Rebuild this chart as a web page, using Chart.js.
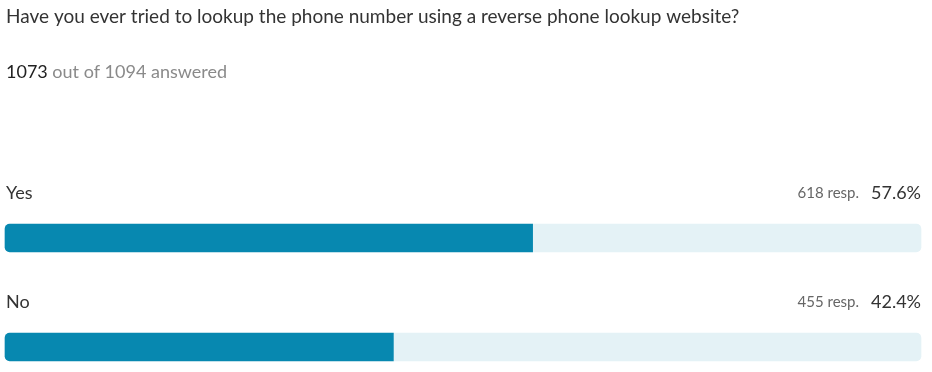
<!DOCTYPE html>
<html>
<head>
<meta charset="utf-8">
<script src="https://cdn.jsdelivr.net/npm/chart.js@4"></script>
<style>
  html, body { margin: 0; padding: 0; background: #fff; }
  #wrap { position: relative; width: 932px; height: 372px; }
  canvas { display: block; }
</style>
</head>
<body>
<div id="wrap"><canvas id="c" width="932" height="372"></canvas></div>
<script>
const question = "Have you ever tried to lookup the phone number using a reverse phone lookup website?";
const answeredCount = 1073;
const totalCount = 1094;
const categories = ["Yes", "No"];
const responses = [618, 455];
const percents = [57.6, 42.4];
const remainders = percents.map(p => +(100 - p).toFixed(1));

const FONT = "Lato, 'Open Sans', sans-serif";

const textPlugin = {
  id: 'surveyText',
  afterDraw(chart) {
    const ctx = chart.ctx;
    ctx.save();
    ctx.textBaseline = 'middle';
    // Title
    ctx.fillStyle = '#333333';
    ctx.font = '19px ' + FONT;
    ctx.textAlign = 'left';
    ctx.fillText(question, 6, 17);
    // Subtitle
    ctx.font = '18px ' + FONT;
    ctx.fillStyle = '#222222';
    const a = String(answeredCount);
    ctx.fillText(a, 6, 72);
    const w = ctx.measureText(a).width;
    ctx.fillStyle = '#8a8a8a';
    ctx.fillText(' out of ' + totalCount + ' answered', 6 + w, 72);
    // Per-category labels
    const meta = chart.getDatasetMeta(0);
    const area = chart.chartArea;
    meta.data.forEach((bar, i) => {
      const y = bar.y - 45;
      ctx.textAlign = 'left';
      ctx.font = '18px ' + FONT;
      ctx.fillStyle = '#333333';
      ctx.fillText(categories[i], 6, y);
      ctx.textAlign = 'right';
      const pct = percents[i].toFixed(1) + '%';
      ctx.fillText(pct, area.right, y);
      const pw = ctx.measureText(pct).width;
      ctx.font = '15px ' + FONT;
      ctx.fillStyle = '#666666';
      ctx.fillText(responses[i] + ' resp.', area.right - pw - 12, y);
    });
    ctx.restore();
  }
};

new Chart(document.getElementById('c'), {
  type: 'bar',
  data: {
    labels: categories,
    datasets: [
      {
        data: percents,
        backgroundColor: '#0788b0',
        borderRadius: { topLeft: 5, bottomLeft: 5, topRight: 0, bottomRight: 0 },
        borderSkipped: false,
        barThickness: 28,
        clip: false
      },
      {
        data: remainders,
        backgroundColor: '#e4f2f6',
        borderRadius: { topLeft: 0, bottomLeft: 0, topRight: 5, bottomRight: 5 },
        borderSkipped: false,
        barThickness: 28,
        clip: false
      }
    ]
  },
  options: {
    indexAxis: 'y',
    responsive: false,
    animation: false,
    layout: { padding: { left: 5, right: 11, top: 238, bottom: 25 } },
    scales: {
      x: { stacked: true, min: 0, max: 100, display: false },
      y: { stacked: true, offset: false, display: false }
    },
    plugins: {
      legend: { display: false },
      tooltip: { enabled: false },
      title: { display: false }
    }
  },
  plugins: [textPlugin]
});
</script>
</body>
</html>
